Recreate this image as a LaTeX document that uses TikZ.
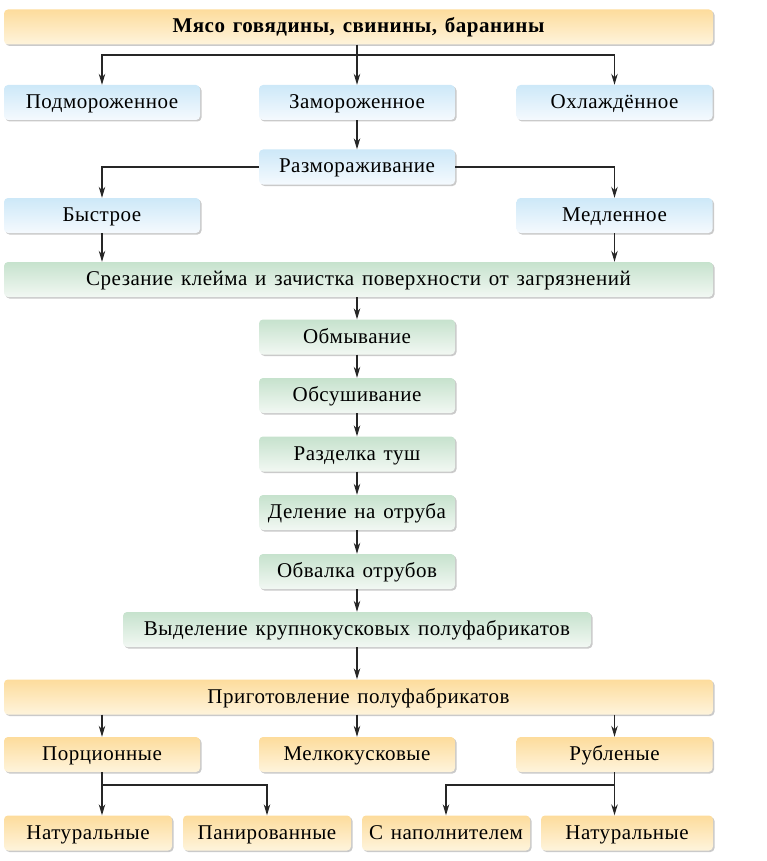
\documentclass[tikz,border=0pt]{standalone}
\usepackage{fontspec}
\setmainfont{Liberation Serif}[LetterSpace=2.5,WordSpace=1.35]
\usepackage{tikz}
\usepackage{xcolor}
\usetikzlibrary{calc, arrows.meta, shadows, positioning}

\definecolor{bluetop}{HTML}{CDE8F8}
\definecolor{bluebot}{HTML}{F5FAFE}
\definecolor{greentop}{HTML}{C6E2CD}
\definecolor{greenbot}{HTML}{F2F8F3}
\definecolor{ortop}{HTML}{FDDC9C}
\definecolor{orbot}{HTML}{FEF4DC}

\begin{document}
\begin{tikzpicture}[x=1pt, y=-1pt,
    box/.style={rounded corners=4pt, minimum height=35pt, inner sep=0pt,
        text height=15pt, text depth=3pt, font=\fontsize{21}{24}\selectfont,
        drop shadow={shadow xshift=1.5pt, shadow yshift=-1.5pt, opacity=0.35, fill=black!60}},
    bluebox/.style={box, top color=bluetop, bottom color=bluebot},
    greenbox/.style={box, top color=greentop, bottom color=greenbot},
    orbox/.style={box, top color=ortop, bottom color=orbot},
    arr/.style={-{Stealth[length=11pt, width=6.5pt]}, line width=1.2pt, black!85}]
    \centering
    \useasboundingbox (0,0) rectangle (766,861);
    \node[orbox, minimum width=709pt, font=\fontsize{21}{24}\selectfont\bfseries] (meat) at (358.5,27) {Мясо говядины, свинины, баранины};
    \node[bluebox, minimum width=196pt] (podm) at (102,102.5) {Подмороженное};
    \node[bluebox, minimum width=196pt] (zamor) at (357,102.5) {Замороженное};
    \node[bluebox, minimum width=196pt] (ohlazh) at (614.5,102.5) {Охлаждённое};
    \node[bluebox, minimum width=196pt] (razmor) at (357,167) {Размораживание};
    \node[bluebox, minimum width=196pt] (bystr) at (102,215.5) {Быстрое};
    \node[bluebox, minimum width=196pt] (medl) at (614.5,215.5) {Медленное};
    \node[greenbox, minimum width=709pt] (srez) at (358.5,279.5) {Срезание клейма и зачистка поверхности от загрязнений};
    \node[greenbox, minimum width=196pt] (obmyv) at (357,337) {Обмывание};
    \node[greenbox, minimum width=196pt] (obsush) at (357,395.5) {Обсушивание};
    \node[greenbox, minimum width=196pt] (razdel) at (357,454) {Разделка туш};
    \node[greenbox, minimum width=196pt] (delen) at (357,512.5) {Деление на отруба};
    \node[greenbox, minimum width=196pt] (obval) at (357,571.5) {Обвалка отрубов};
    \node[greenbox, minimum width=468pt] (vydel) at (357,629.5) {Выделение крупнокусковых полуфабрикатов};
    \node[orbox, minimum width=709pt] (prigot) at (358.5,697) {Приготовление полуфабрикатов};
    \node[orbox, minimum width=196pt] (porc) at (102,754.5) {Порционные};
    \node[orbox, minimum width=196pt] (melk) at (357,754.5) {Мелкокусковые};
    \node[orbox, minimum width=196pt] (rubl) at (614.5,754.5) {Рубленые};
    \node[orbox, minimum width=168pt] (natur1) at (88,833) {Натуральные};
    \node[orbox, minimum width=168pt] (panir) at (267,833) {Панированные};
    \node[orbox, minimum width=168pt] (snapoln) at (446,833) {С наполнителем};
    \node[orbox, minimum width=172pt] (natur2) at (627,833) {Натуральные};
    \coordinate (fork1) at (357,55);
    \coordinate (fork2) at (102,785);
    \coordinate (fork3) at (614.5,785);
    \draw[arr] (zamor.north |- meat.south) -- (zamor.north);
    \draw[arr] (fork1) -| (podm.north);
    \draw[arr] (fork1) -| (ohlazh.north);
    \draw[arr] (zamor.south) -- (razmor.north);
    \draw[arr] (razmor.west) -| (bystr.north);
    \draw[arr] (razmor.east) -| (medl.north);
    \draw[arr] (bystr.south) -- (bystr.south |- srez.north);
    \draw[arr] (medl.south) -- (medl.south |- srez.north);
    \draw[arr] (obmyv.north |- srez.south) -- (obmyv.north);
    \draw[arr] (obmyv.south) -- (obsush.north);
    \draw[arr] (obsush.south) -- (razdel.north);
    \draw[arr] (razdel.south) -- (delen.north);
    \draw[arr] (delen.south) -- (obval.north);
    \draw[arr] (obval.south) -- (vydel.north);
    \draw[arr] (vydel.south) -- (vydel.south |- prigot.north);
    \draw[arr] (porc.north |- prigot.south) -- (porc.north);
    \draw[arr] (melk.north |- prigot.south) -- (melk.north);
    \draw[arr] (rubl.north |- prigot.south) -- (rubl.north);
    \draw[arr] (porc.south) -- (porc.south |- natur1.north);
    \draw[arr] (fork2) -| (panir.north);
    \draw[arr] (rubl.south) -- (rubl.south |- natur2.north);
    \draw[arr] (fork3) -| (snapoln.north);
\end{tikzpicture}
\end{document}
